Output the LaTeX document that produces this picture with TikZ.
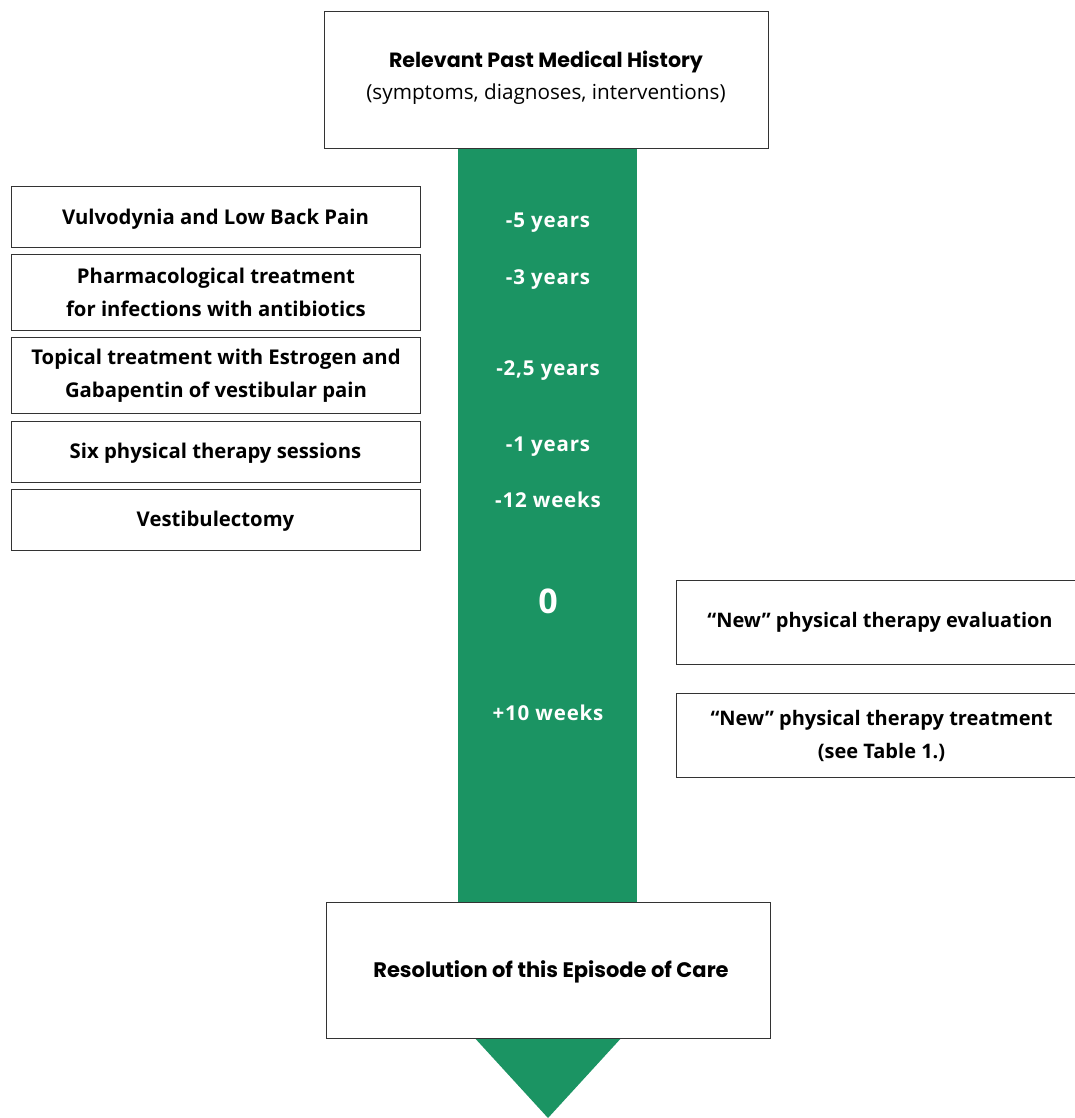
\documentclass[tikz,border=0pt]{standalone}
\usepackage{fontspec}
\setmainfont{Open Sans}
\newfontfamily\headfont{Poppins}
\definecolor{tlgreen}{HTML}{1B9463}
\begin{document}
\begin{tikzpicture}[x=1pt,y=-1pt,
  box/.style={draw=black!80,line width=1pt,fill=white,align=center,inner sep=0pt},
  lbl/.style={text=white,font=\bfseries\fontsize{20.5}{23}\selectfont\addfontfeature{LetterSpace=4},anchor=center},
  btext/.style={font=\bfseries\fontsize{20.3}{33}\selectfont},
  rtext/.style={font=\bfseries\fontsize{20}{33}\selectfont}]
\useasboundingbox (0,0) rectangle (1075,1118);
% arrow
\fill[tlgreen] (458,140) rectangle (637,1000);
\fill[tlgreen] (440,1000) -- (656,1000) -- (548,1118) -- cycle;
% top box
\node[box,minimum width=444,minimum height=137,anchor=north west] (top) at (324,11) {};
\node[font=\headfont\bfseries\fontsize{20.6}{23}\selectfont] (topa) at (546,62) {Relevant Past Medical History};
\node[font=\fontsize{20.7}{23}\selectfont] (topb) at (546,94) {(symptoms, diagnoses, interventions)};
% left boxes
\node[box,minimum width=409,minimum height=61,anchor=north west] (l1) at (11,186) {};
\node[btext] (l1t) at (215.5,219) {Vulvodynia and Low Back Pain};
\node[box,btext,minimum width=409,minimum height=76,anchor=north west] (l2) at (11,254) {Pharmacological treatment\\for infections with antibiotics};
\node[box,btext,minimum width=409,minimum height=76,anchor=north west] (l3) at (11,337) {Topical treatment with Estrogen and\\Gabapentin of vestibular pain};
\node[box,minimum width=409,minimum height=61,anchor=north west] (l4) at (11,421) {};
\node[btext] (l4t) at (215.5,453) {Six physical therapy sessions};
\node[box,minimum width=409,minimum height=61,anchor=north west] (l5) at (11,489) {};
\node[btext] (l5t) at (215.5,521) {Vestibulectomy};
% timeline labels
\node[lbl] (t1) at (548,223) {-5 years};
\node[lbl] (t2) at (548,280) {-3 years};
\node[lbl] (t3) at (548,371) {-2,5 years};
\node[lbl] (t4) at (548,447) {-1 years};
\node[lbl] (t5) at (548,500) {-12 weeks};
\node[text=white,font=\bfseries\fontsize{34}{40}\selectfont] (t6) at (548,601) {0};
\node[lbl] (t7) at (548,713) {+10 weeks};
% right boxes
\node[box,minimum width=410,minimum height=84,anchor=north west] (r1) at (676,580) {};
\node[rtext] (r1t) at (880,622) {“New” physical therapy evaluation};
\node[box,rtext,minimum width=410,minimum height=84,anchor=north west] (r2) at (676,693) {“New” physical therapy treatment\\(see Table 1.)};
% bottom box
\node[box,minimum width=444,minimum height=136,anchor=north west] (bot) at (326,902) {};
\node[font=\headfont\bfseries\fontsize{21}{23}\selectfont] (bott) at (551,972) {Resolution of this Episode of Care};
\end{tikzpicture}
\end{document}
